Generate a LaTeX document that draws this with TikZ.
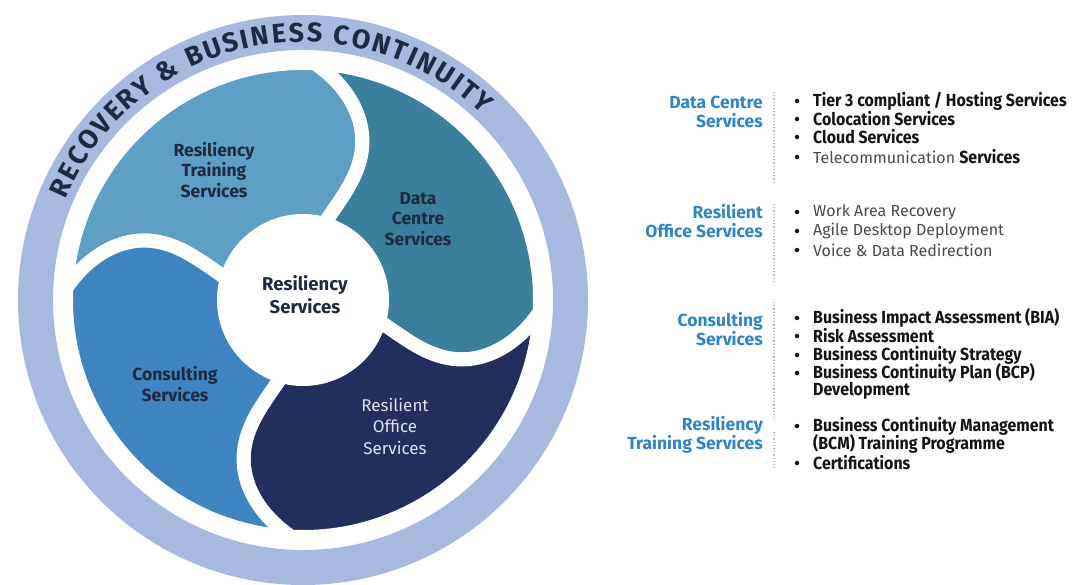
\documentclass[tikz,border=0pt]{standalone}
\usepackage{fontspec}
\setmainfont{Fira Sans}
\newfontfamily\condfont[FakeStretch=0.91]{Fira Sans}
\usetikzlibrary{decorations.text}
\definecolor{ringc}{HTML}{A7B9DF}
\definecolor{trainc}{HTML}{5E9FC6}
\definecolor{datac}{HTML}{3A7F9C}
\definecolor{officec}{HTML}{222E5E}
\definecolor{consc}{HTML}{3F85C2}
\definecolor{labc}{HTML}{1E2A40}
\definecolor{officetxt}{HTML}{DDE2EE}
\definecolor{bluelab}{HTML}{2F86C6}
\definecolor{itemc}{HTML}{141414}
\definecolor{greyitem}{HTML}{4A4A4A}
\definecolor{dotc}{HTML}{B8C0D0}
\begin{document}
\begin{tikzpicture}[x=1pt,y=1pt,
  declare function={f(\r)=67.5+0.002*(\r-138)^2;},
  lab/.style={align=center, font=\bfseries\fontsize{17.5}{20.5}\selectfont, text=labc, inner sep=0},
  grp/.style={align=right, anchor=east, font=\bfseries\fontsize{17.5}{19.5}\selectfont, text=bluelab, inner sep=0},
  item/.style={anchor=west, font=\condfont\bfseries\fontsize{17.5}{18}\selectfont, text=itemc, inner sep=0},
  gitem/.style={anchor=west, font=\fontsize{16}{18}\selectfont, text=greyitem, inner sep=0},
  bul/.style={circle, fill=itemc, inner sep=0, minimum size=4.5},
  dotline/.style={dotc, dotted, line width=1.2}]
\useasboundingbox (0,0) rectangle (1078,-585);
\fill[white] (0,0) rectangle (1078,-585);
\begin{scope}[shift={(303,-300)}]
  \draw[ringc, line width=35] (0,0) circle[radius=267.5];
  \foreach \off/\col in {0/trainc, -90/datac, -180/officec, -270/consc} {
    \filldraw[fill=\col, draw=white, line width=14, line join=round]
      plot[domain=70:237, samples=50, variable=\r] ({f(\r)+(\off)}:\r)
      arc[start angle={f(237)+(\off)}, delta angle=90, radius=237]
      -- plot[domain=237:70, samples=50, variable=\r] ({f(\r)+(\off)+90}:\r)
      -- cycle;
  }
  \fill[white] (0,0) circle[radius=86];
  \path[decorate, decoration={text along path, text align=fit to path,
      text={|\bfseries\fontsize{27}{27}\selectfont\color{labc}|RECOVERY {\&} BUSINESS CONTINUITY}}]
    (157:258) arc[start angle=157, end angle=46, radius=258];
\end{scope}
% circle labels
\node[lab] (train) at (214,-170) {Resiliency\\Training\\Services};
\node[lab] (data) at (418,-219) {Data\\Centre\\Services};
\node[lab, font=\bfseries\fontsize{18.5}{23}\selectfont] (core) at (305,-295) {Resiliency\\Services};
\node[lab] (cons) at (175,-384) {Consulting\\Services};
\node[lab, font=\fontsize{17}{21.5}\selectfont, text=officetxt] (office) at (395,-426) {Resilient\\Office\\Services};
% group labels
\node[grp] (g1) at (763,-112) {Data Centre\\Services};
\node[grp] (g2) at (763,-221) {Resilient\\Office Services};
\node[grp] (g3) at (763,-329) {Consulting\\Services};
\node[grp] (g4) at (763,-435) {Resiliency\\Training Services};
% dotted separators
\coordinate (d1a) at (774,-92); \coordinate (d1b) at (774,-182);
\coordinate (d2a) at (774,-204); \coordinate (d2b) at (774,-284);
\coordinate (d3a) at (774,-302); \coordinate (d3b) at (774,-420);
\coordinate (d4a) at (774,-432); \coordinate (d4b) at (774,-470);
\draw[dotline] (d1a) -- (d1b);
\draw[dotline] (d2a) -- (d2b);
\draw[dotline] (d3a) -- (d3b);
\draw[dotline] (d4a) -- (d4b);
% bullets
\foreach \y [count=\i] in {101,119,137,157,212,231,250,318,336,355,373,426,463}
  \node[bul] (b\i) at (797,-\y) {};
% items
\node[item] (i1) at (813,-101) {Tier 3 compliant / Hosting Services};
\node[item] (i2) at (813,-119) {Colocation Services};
\node[item] (i3) at (813,-137) {Cloud Services};
\node[gitem] (i4) at (813,-157) {Telecommunication \textcolor{itemc}{\condfont\bfseries\fontsize{17.5}{18}\selectfont Services}};
\node[gitem] (i5) at (813,-212) {Work Area Recovery};
\node[gitem] (i6) at (813,-231) {Agile Desktop Deployment};
\node[gitem] (i7) at (813,-250) {Voice \& Data Redirection};
\node[item] (i8) at (813,-318) {Business Impact Assessment (BIA)};
\node[item] (i9) at (813,-336) {Risk Assessment};
\node[item] (i10) at (813,-355) {Business Continuity Strategy};
\node[item] (i11) at (813,-373) {Business Continuity Plan (BCP)};
\node[item] (i12) at (813,-391) {Development};
\node[item] (i13) at (813,-426) {Business Continuity Management};
\node[item] (i14) at (813,-444) {(BCM) Training Programme};
\node[item] (i15) at (813,-463) {Certifications};
\end{tikzpicture}
\end{document}
